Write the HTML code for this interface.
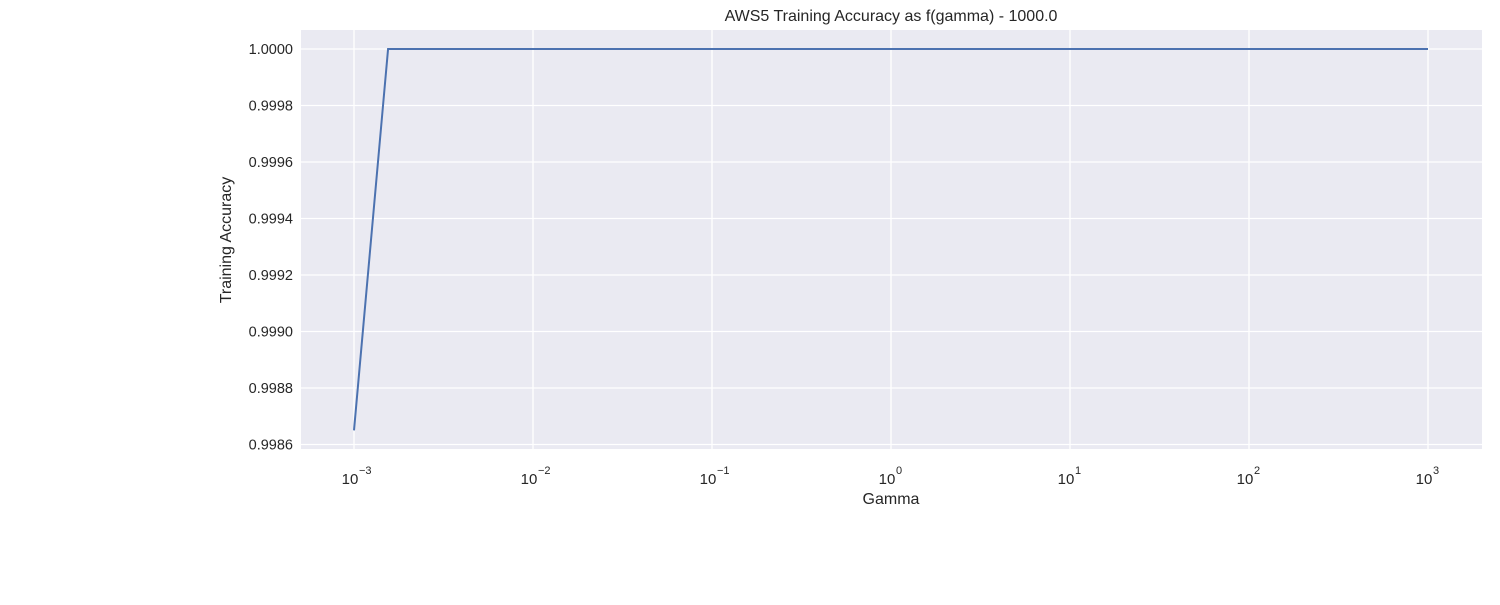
<!DOCTYPE html>
<html><head><meta charset="utf-8"><style>
body{margin:0;background:#fff;}
svg text{font-family:"Liberation Sans","DejaVu Sans",sans-serif;fill:#262626;}
</style></head><body>
<svg id="chart" width="1500" height="600" xmlns="http://www.w3.org/2000/svg">
<rect x="301" y="30" width="1181" height="419" fill="#eaeaf2"/>
<g id="grid"></g><g id="ticks"></g><g id="series"></g>
<text x="891" y="21" font-size="16" text-anchor="middle">AWS5 Training Accuracy as f(gamma) - 1000.0</text>
<text x="891" y="504" font-size="16" text-anchor="middle">Gamma</text>
<text x="231" y="240" font-size="16" text-anchor="middle" transform="rotate(-90 231 240)">Training Accuracy</text>
</svg>
<script>
const gammas=[0.001,0.00155,0.0024,0.0037,0.0058,0.009,0.014,0.1,1,10,100,1000];
const accuracy=[0.99865,1,1,1,1,1,1,1,1,1,1,1];
const yTicks=[0.9986,0.9988,0.9990,0.9992,0.9994,0.9996,0.9998,1.0000];
const xExps=[-3,-2,-1,0,1,2,3];
const NS="http://www.w3.org/2000/svg";
function xs(g){return 354+(Math.log10(g)+3)*179;}
function ys(v){return 49+(1-v)/0.0002*56.5;}
function mk(t,a,p){const e=document.createElementNS(NS,t);for(const k in a)e.setAttribute(k,a[k]);p.appendChild(e);return e;}
const grid=document.getElementById('grid'),ticks=document.getElementById('ticks'),series=document.getElementById('series');
yTicks.forEach(v=>{const y=ys(v);
 const l=mk('line',{x1:301,x2:1482,y1:y,y2:y,stroke:'#fff','stroke-width':1.3},grid);
 
 
 const t=mk('text',{x:293,y:y+5,'font-size':14.5,'text-anchor':'end'},ticks);t.textContent=v.toFixed(4);
 
 
});
xExps.forEach(e=>{const x=xs(Math.pow(10,e));
 const l=mk('line',{x1:x,x2:x,y1:30,y2:449,stroke:'#fff','stroke-width':1.3},grid);
 
 
 const t=mk('text',{x:x-4,y:484,'font-size':15,'text-anchor':'middle'},ticks);t.textContent='10';
 
 
 const s=mk('text',{x:x+5,y:474,'font-size':11,'text-anchor':'start'},ticks);s.textContent=(e<0?'\u2212':'')+Math.abs(e);
 
 
});
const pts=gammas.map((g,i)=>xs(g)+','+ys(accuracy[i])).join(' ');
const pl=mk('polyline',{points:pts,fill:'none',stroke:'#4c72b0','stroke-width':2},series);


</script>
</body></html>
